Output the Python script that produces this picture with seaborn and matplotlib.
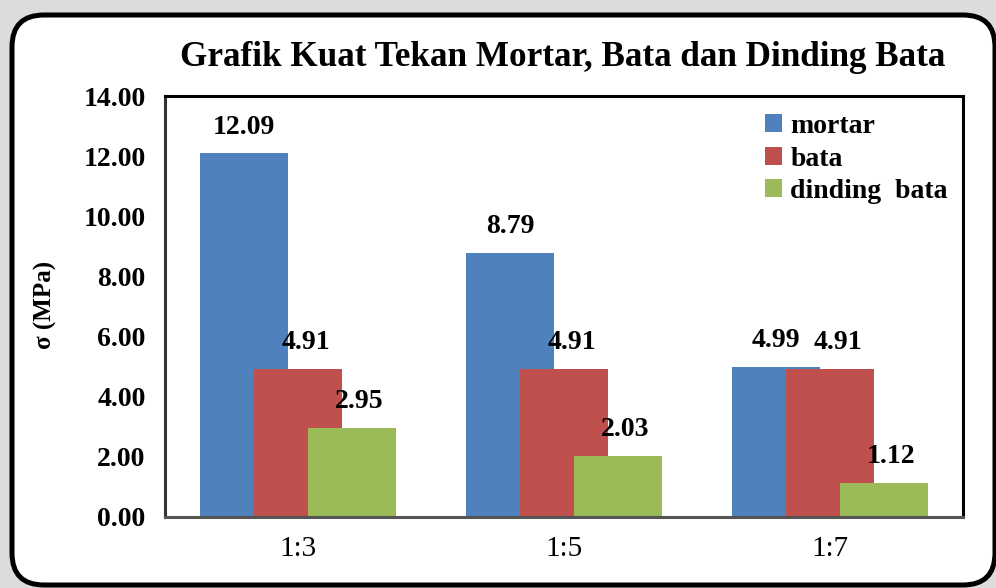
import matplotlib
matplotlib.use('Agg')
import matplotlib.pyplot as plt
import seaborn as sns
import pandas as pd
from matplotlib.patches import FancyBboxPatch, Patch

categories = ['1:3', '1:5', '1:7']
series = ['mortar', 'bata', 'dinding  bata']
mortar = [12.09, 8.79, 4.99]
bata = [4.91, 4.91, 4.91]
dinding_bata = [2.95, 2.03, 1.12]
yticks = [0, 2, 4, 6, 8, 10, 12, 14]
ytick_labels = ['0.00', '2.00', '4.00', '6.00', '8.00', '10.00', '12.00', '14.00']
title = 'Grafik Kuat Tekan Mortar, Bata dan Dinding Bata'
ylabel = 'σ (MPa)'
colors = ['#4F81BD', '#C0504D', '#9BBB59']

df = pd.DataFrame({
    'rasio': categories * 3,
    'seri': [series[0]] * 3 + [series[1]] * 3 + [series[2]] * 3,
    'nilai': mortar + bata + dinding_bata,
})

sns.set_theme(style='white')
plt.rcParams['font.family'] = ['Liberation Serif', 'DejaVu Serif']
plt.rcParams['text.color'] = 'black'
plt.rcParams['xtick.color'] = 'black'
plt.rcParams['ytick.color'] = 'black'
plt.rcParams['axes.labelcolor'] = 'black'

fig = plt.figure(figsize=(9.96, 5.88), dpi=100, facecolor='#dcdcdc')
border = FancyBboxPatch((0.12, 0.03), 9.83, 5.70,
                        boxstyle='round,pad=0,rounding_size=0.32',
                        transform=fig.dpi_scale_trans, facecolor='white',
                        edgecolor='black', linewidth=3.6, zorder=0)
fig.add_artist(border)

ax = fig.add_axes([165 / 996, 1 - 517 / 588, 798 / 996, 421 / 588])
sns.barplot(data=df, x='rasio', y='nilai', hue='seri', hue_order=series,
            palette=colors, saturation=1, width=0.609, errorbar=None,
            legend=False, ax=ax, linewidth=0)

bar_w = 0.334
label_dx = [0, 6, 5]
for ci, cont in enumerate(ax.containers):
    for p in cont.patches:
        cx = p.get_x() + p.get_width() / 2
        p.set_x(cx - bar_w / 2)
        p.set_width(bar_w)
        h = p.get_height()
        ax.annotate(f'{h:.2f}', (cx, h), xytext=(label_dx[ci], 19),
                    textcoords='offset points', ha='center', va='center',
                    fontsize=20, fontweight='bold', color='black')

ax.set_xlim(-0.5, 2.5)
ax.set_ylim(0, 14)
ax.set_yticks(yticks)
ax.set_yticklabels(ytick_labels, fontsize=20, fontweight='bold')
ax.tick_params(axis='y', length=0, pad=14)
ax.tick_params(axis='x', length=0, pad=14, labelsize=21)
ax.set_xlabel('')
ax.set_ylabel('')
for s in ax.spines.values():
    s.set_visible(True)
    s.set_color('black')
    s.set_linewidth(2.2)
ax.spines['left'].set_color('#333333')
ax.spines['bottom'].set_color('#555555')

handles = [Patch(facecolor=c, edgecolor='none', label=s) for c, s in zip(colors, series)]
ax.legend(handles=handles, loc='upper left', bbox_to_anchor=(0.735, 0.99),
          frameon=False, borderpad=0, handlelength=0.6, handleheight=0.6,
          handletextpad=0.3, labelspacing=0.27,
          prop={'family': 'Liberation Serif', 'weight': 'bold', 'size': 20})

fig.text(0.565, 1 - 58 / 588, title, ha='center', va='center',
         fontsize=25.3, fontweight='bold')
fig.text(45 / 996, 1 - 305 / 588, ylabel, ha='center', va='center',
         rotation=90, fontsize=18, fontweight='bold')

fig.savefig('out.png', dpi=100, facecolor=fig.get_facecolor())
